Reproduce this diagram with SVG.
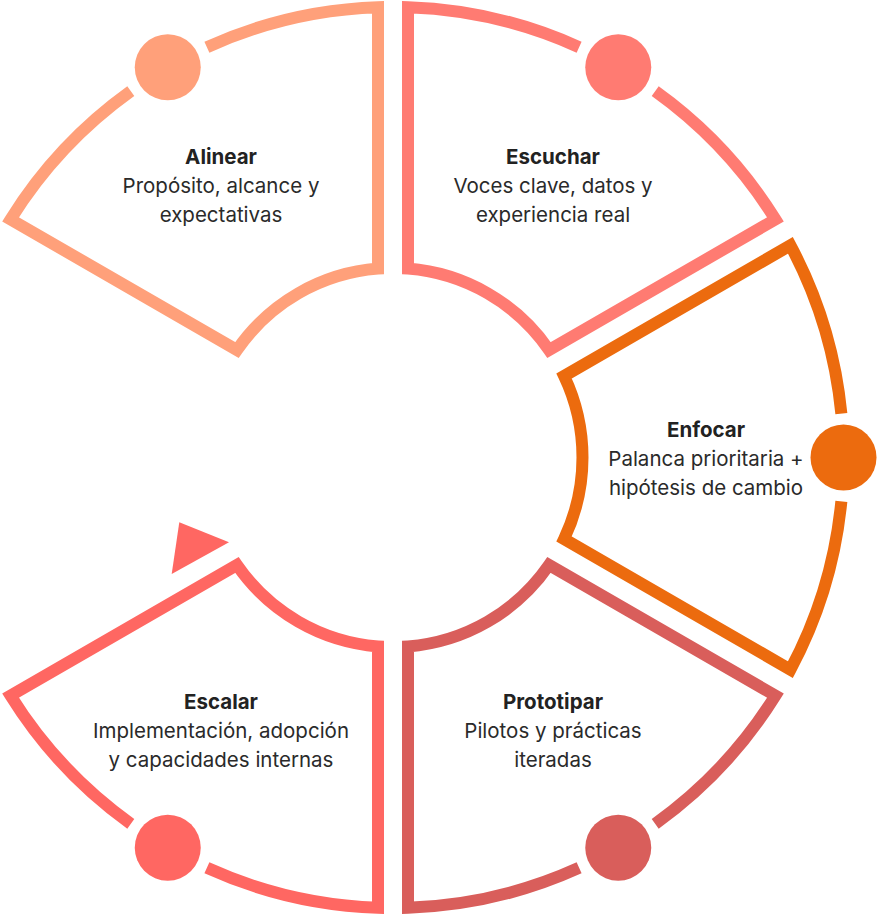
<svg xmlns="http://www.w3.org/2000/svg" width="877" height="917" viewBox="0 0 877 917">
  <style>
    .seg { fill: none; stroke-width: 12; stroke-linejoin: miter; stroke-linecap: butt; }
    .title { font-family: Inter, "Liberation Sans", sans-serif; font-size: 20.5px; font-weight: 700; fill: #222222; text-anchor: middle; }
    .sub { font-family: Inter, "Liberation Sans", sans-serif; font-size: 20.5px; font-weight: 400; fill: #2a2a2a; text-anchor: middle; }
  </style>
  <rect width="877" height="917" fill="#ffffff"/>

  <g id="alinear">
    <path class="seg" stroke="#FFA07A" d="M 206.9 47.2 A 450.5 450.5 0 0 1 378 7.25 L 378 268.6 A 189.5 189.5 0 0 0 236.91 350.06 L 10.58 219.38 A 450.5 450.5 0 0 1 130.8 91.2"/>
    <circle cx="167.75" cy="67.36" r="33" fill="#FFA07A"/>
    <text class="title" x="221" y="164">Alinear</text>
    <text class="sub" x="221" y="193">Propósito, alcance y</text>
    <text class="sub" x="221" y="221.5">expectativas</text>
  </g>

  <g id="escuchar">
    <path class="seg" stroke="#FF7B72" d="M 655.2 91.2 A 450.5 450.5 0 0 1 775.42 219.38 L 549.09 350.06 A 189.5 189.5 0 0 0 408 268.6 L 408 7.25 A 450.5 450.5 0 0 1 579.1 47.2"/>
    <circle cx="618.25" cy="67.36" r="33" fill="#FF7B72"/>
    <text class="title" x="553" y="164">Escuchar</text>
    <text class="sub" x="553" y="193">Voces clave, datos y</text>
    <text class="sub" x="553" y="221.5">experiencia real</text>
  </g>

  <g id="enfocar">
    <path class="seg" stroke="#EC6B0E" d="M 841.35 501.46 A 450.5 450.5 0 0 1 790.42 669.64 L 564.09 538.96 A 189.5 189.5 0 0 0 564.09 376.04 L 790.42 245.36 A 450.5 450.5 0 0 1 841.35 413.54"/>
    <circle cx="843.5" cy="457.5" r="33" fill="#EC6B0E"/>
    <text class="title" x="706" y="437">Enfocar</text>
    <text class="sub" x="706" y="466">Palanca prioritaria +</text>
    <text class="sub" x="706" y="495">hipótesis de cambio</text>
  </g>

  <g id="prototipar">
    <path class="seg" stroke="#D95E5B" d="M 579.1 867.8 A 450.5 450.5 0 0 1 408 907.75 L 408 646.4 A 189.5 189.5 0 0 0 549.09 564.94 L 775.42 695.62 A 450.5 450.5 0 0 1 655.2 823.8"/>
    <circle cx="618.25" cy="847.64" r="33" fill="#D95E5B"/>
    <text class="title" x="553" y="708.5">Prototipar</text>
    <text class="sub" x="553" y="737.5">Pilotos y prácticas</text>
    <text class="sub" x="553" y="766.5">iteradas</text>
  </g>

  <g id="escalar">
    <path class="seg" stroke="#FF6762" d="M 130.8 823.8 A 450.5 450.5 0 0 1 10.58 695.62 L 236.91 564.94 A 189.5 189.5 0 0 0 378 646.4 L 378 907.75 A 450.5 450.5 0 0 1 206.9 867.8"/>
    <circle cx="167.75" cy="847.64" r="33" fill="#FF6762"/>
    <text class="title" x="221" y="709">Escalar</text>
    <text class="sub" x="221" y="738">Implementación, adopción</text>
    <text class="sub" x="221" y="766.5">y capacidades internas</text>
  </g>

  <g id="connectors">
    <polygon points="179.3,522.3 229,542.3 171.7,574" fill="#FF6762"/>
  </g>
</svg>
